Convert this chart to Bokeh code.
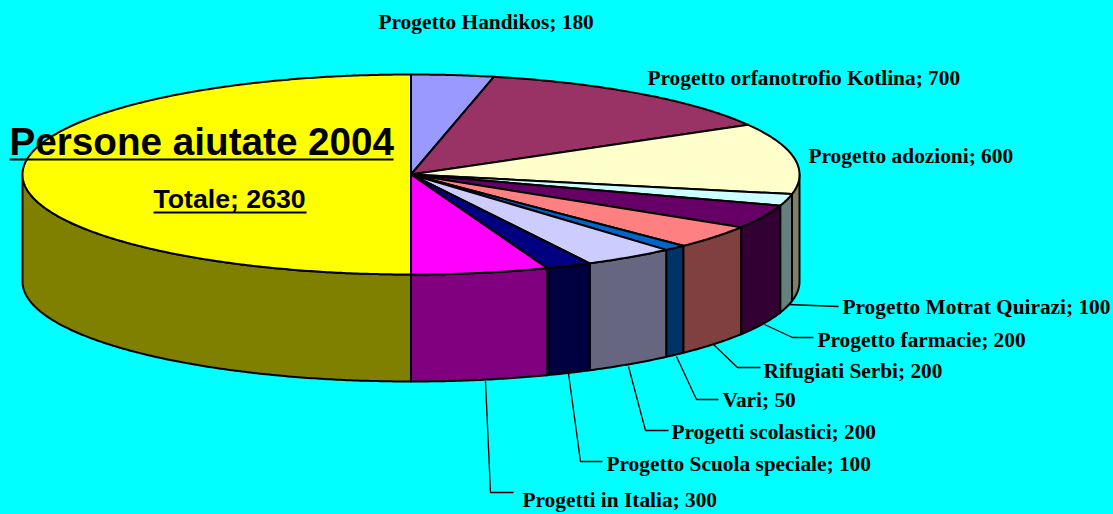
import numpy as np
from bokeh.plotting import figure
from bokeh.embed import file_html
from bokeh.resources import INLINE
from bokeh.core.properties import value

names = ["Progetto Handikos", "Progetto orfanotrofio Kotlina", "Progetto adozioni",
         "Progetto Motrat Quirazi", "Progetto farmacie", "Rifugiati Serbi", "Vari",
         "Progetti scolastici", "Progetto Scuola speciale", "Progetti in Italia", "Totale"]
values = [180, 700, 600, 100, 200, 200, 50, 200, 100, 300, 2630]
top_colors = ["#9999FF", "#993366", "#FFFFCC", "#CCFFFF", "#660066", "#FF8080", "#0066CC",
              "#CCCCFF", "#000080", "#FF00FF", "#FFFF00"]
side_colors = ["#4C4C80", "#4C1933", "#808066", "#668080", "#330033", "#804040", "#003366",
               "#666680", "#000040", "#800080", "#808000"]
title = "Persone aiutate 2004"

CX, CY, RX, RY, DEPTH = 410.5, 174.0, 388.5, 100.0, 107.0
BG = "#00FFFF"

p = figure(width=1113, height=514, x_range=(0, 1113), y_range=(514, 0),
           toolbar_location=None, output_backend="svg", min_border=0,
           background_fill_color=BG, border_fill_color=BG, outline_line_color=None)
p.axis.visible = False
p.grid.visible = False


def arc(a, b, dy=0.0):
    t = np.radians(np.linspace(a, b, max(2, int(abs(b - a) * 2) + 2)))
    return CX + RX * np.sin(t), CY - RY * np.cos(t) + dy


edges = np.concatenate([[0], np.cumsum(values)]) / sum(values) * 360.0
side_x, side_y, side_c, top_x, top_y, top_c = [], [], [], [], [], []
for a, b, tc, sc in zip(edges[:-1], edges[1:], top_colors, side_colors):
    x, y = arc(a, b)
    top_x.append(np.concatenate([[CX], x]).tolist())
    top_y.append(np.concatenate([[CY], y]).tolist())
    top_c.append(tc)
    lo, hi = max(a, 90.0), min(b, 270.0)
    if lo < hi:
        x1, y1 = arc(lo, hi)
        x2, y2 = arc(hi, lo, DEPTH)
        side_x.append(np.concatenate([x1, x2]).tolist())
        side_y.append(np.concatenate([y1, y2]).tolist())
        side_c.append(sc)

p.patches(side_x, side_y, fill_color=side_c, line_color="black", line_width=2, line_join="round")
p.patches(top_x, top_y, fill_color=top_c, line_color="black", line_width=2, line_join="round")

# leader lines
leaders = {
    3: ([788, 838], [304, 306]),
    4: ([764, 792, 813], [324, 337, 337]),
    5: ([713, 737, 760], [344, 367, 367]),
    6: ([676, 696, 718], [356, 399, 399]),
    7: ([628, 645, 668], [366, 430, 430]),
    8: ([568, 580, 602], [373, 461, 461]),
    9: ([485, 490, 513], [381, 492, 492]),
}
p.multi_line([v[0] for v in leaders.values()], [v[1] for v in leaders.values()],
             line_color="black", line_width=1.3)

label_pos = [(378, 21), (647, 77), (808, 155), (842, 306), (817, 339), (763, 370),
             (722, 399), (671, 431), (606, 463), (522, 499)]
for i, (lx, ly) in enumerate(label_pos):
    p.text([lx], [ly], text=[f"{names[i]}; {values[i]}"], text_font=value("Liberation Serif"),
           text_font_style="bold", text_font_size="21.33px", text_color="black",
           text_baseline="alphabetic", text_align="left")

p.text([9], [141], text=[title], text_font=value("Liberation Sans"), text_font_style="bold",
       text_font_size="38.67px", text_color="black", text_baseline="alphabetic")
p.segment([9], [159], [393], [159], line_color="black", line_width=2)
p.text([153], [198], text=[f"{names[10]}; {values[10]}"], text_font=value("Liberation Sans"),
       text_font_style="bold", text_font_size="26.67px", text_color="black", text_baseline="alphabetic")
p.segment([153], [212], [306], [212], line_color="black", line_width=2)

html = file_html(p, INLINE)
html = html.replace("<head>", "<head><style>html,body{margin:0;padding:0;background:#00FFFF;overflow:hidden}</style>", 1)
open("out.html", "w").write(html)
